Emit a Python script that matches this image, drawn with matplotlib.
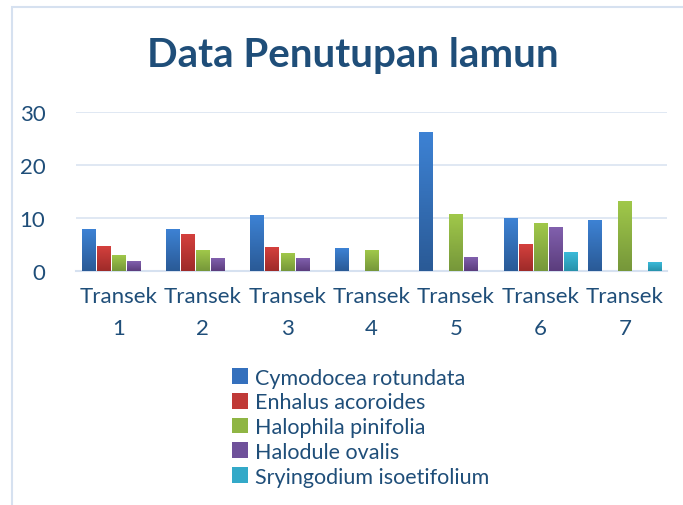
import matplotlib
matplotlib.use("Agg")
import matplotlib.pyplot as plt
import numpy as np
from matplotlib.patches import Rectangle
from matplotlib.colors import LinearSegmentedColormap

categories = ["Transek\n1", "Transek\n2", "Transek\n3", "Transek\n4", "Transek\n5", "Transek\n6", "Transek\n7"]
series_names = ["Cymodocea rotundata", "Enhalus acoroides", "Halophila pinifolia",
                "Halodule ovalis", "Sryingodium isoetifolium"]
cymodocea = [7.9, 7.9, 10.5, 4.3, 26.3, 10.0, 9.6]
enhalus = [4.7, 7.0, 4.5, 0, 0, 5.0, 0]
halophila = [3.0, 3.9, 3.35, 3.9, 10.7, 9.0, 13.2]
halodule = [1.8, 2.4, 2.4, 0, 2.6, 8.3, 0]
syringodium = [0, 0, 0, 0, 0, 3.5, 1.6]
yticks = [0, 10, 20, 30]

series = [cymodocea, enhalus, halophila, halodule, syringodium]
tops = ["#3d82d4", "#d4403d", "#a0c84a", "#8160ad", "#3bbad9"]
bottoms = ["#2a5a96", "#9e2b29", "#76973a", "#5b3d7d", "#2892ab"]
legend_cols = ["#3470bd", "#c03a37", "#8fb544", "#6f519a", "#33a9c8"]

plt.rcParams['font.family'] = ['Lato', 'DejaVu Sans']
txt = "#1f4e79"

fig = plt.figure(figsize=(6.83, 5.06), dpi=100)
W, H = 683, 506
ax = fig.add_axes([76 / W, 1 - 271.7 / H, (667 - 76) / W, (271.7 - 113.3) / H])

x = np.arange(len(categories))
slot = 0.178
bw = 0.155
for i, (vals, nm) in enumerate(zip(series, series_names)):
    off = (i - 2) * slot
    bars = ax.bar(x + off, vals, width=bw, color=legend_cols[i], label=nm, zorder=3)
    cmap = LinearSegmentedColormap.from_list("g%d" % i, [bottoms[i], tops[i]])
    grad = np.linspace(0, 1, 64).reshape(-1, 1)
    for b in bars:
        h = b.get_height()
        if h <= 0:
            continue
        bx = b.get_x()
        im = ax.imshow(grad, cmap=cmap, origin="lower", aspect="auto",
                       extent=[bx, bx + b.get_width(), 0, h], zorder=4)
        im.set_clip_path(b)

ax.set_xlim(-0.5, len(categories) - 0.5)
ax.set_ylim(0, 30)
ax.set_yticks(yticks)
ax.set_xticks(x)
ax.set_xticklabels(categories, fontsize=16, color=txt, linespacing=1.75)
ax.tick_params(axis='y', labelsize=16, labelcolor=txt, length=0, pad=22)
ax.tick_params(axis='x', length=0, pad=11)
for s in ["top", "right", "left"]:
    ax.spines[s].set_visible(False)
ax.spines["bottom"].set_color("#d6e1f0")
ax.spines["bottom"].set_linewidth(1.5)
ax.grid(axis='y', color="#dde6f2", linewidth=1.3, zorder=0)
ax.set_axisbelow(True)

fig.text(353 / W, 1 - 55 / H, "Data Penutupan lamun", ha="center", va="center",
         fontsize=29, fontweight="bold", color="#1f4e79")

# chart border
fig.patches.append(Rectangle((12 / W, -0.01), 1.0, 1 - 8 / H + 0.01, transform=fig.transFigure,
                             fill=False, edgecolor="#d6e1f0", linewidth=1.5))

leg = fig.legend(loc="upper left", bbox_to_anchor=(223 / W, 1 - 360 / H), frameon=False,
                 fontsize=15.5, handlelength=0.75, handleheight=0.75, handletextpad=0.35,
                 labelspacing=0.22, borderaxespad=0)
for t in leg.get_texts():
    t.set_color(txt)

fig.savefig("out.png", dpi=100)
